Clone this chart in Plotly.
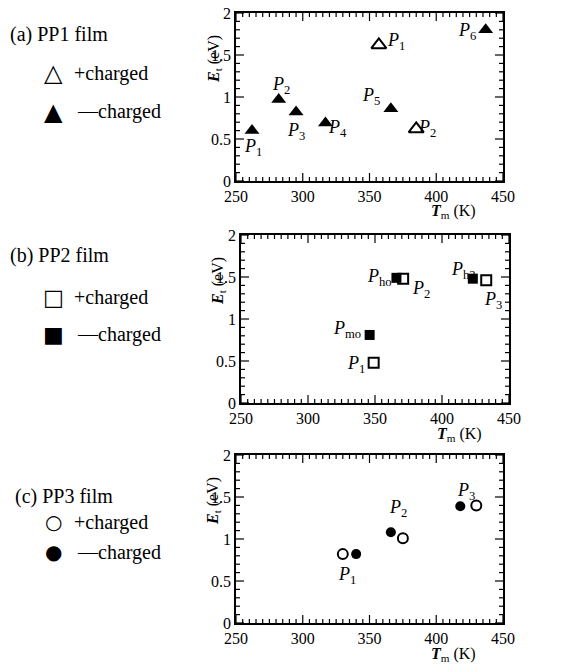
import numpy as np
import plotly.graph_objects as go

W, H = 581, 664

# ---- data: trap depth E_t (eV) versus peak temperature T_m (K) ----
pp1_pos_T = [357, 385]
pp1_pos_E = [1.62, 0.62]
pp1_neg_T = [262, 282, 295, 317, 366, 437]
pp1_neg_E = [0.60, 0.97, 0.82, 0.69, 0.86, 1.80]

pp2_pos_T = [349, 371, 433]
pp2_pos_E = [0.48, 1.48, 1.46]
pp2_neg_T = [346, 366, 423]
pp2_neg_E = [0.81, 1.49, 1.48]

pp3_pos_T = [330, 375, 430]
pp3_pos_E = [0.82, 1.01, 1.40]
pp3_neg_T = [340, 366, 418]
pp3_neg_E = [0.82, 1.08, 1.39]

x_range = [250, 450]
y_range = [0, 2]

SERIF = "Liberation Serif"


def px_x(p):
    return p / W


def px_y(p):
    return 1 - p / H


# plot frames in pixels: (left, right, top, bottom)
frames = [
    (236, 503, 13, 181),
    (241, 509, 235, 403),
    (236, 503, 455, 623),
]

panels = [
    dict(pos=(pp1_pos_T, pp1_pos_E), neg=(pp1_neg_T, pp1_neg_E),
         open_sym="triangle-up-open", fill_sym="triangle-up", size=13),
    dict(pos=(pp2_pos_T, pp2_pos_E), neg=(pp2_neg_T, pp2_neg_E),
         open_sym="square-open", fill_sym="square", size=10),
    dict(pos=(pp3_pos_T, pp3_pos_E), neg=(pp3_neg_T, pp3_neg_E),
         open_sym="circle-open", fill_sym="circle", size=10),
]

MAJOR_LEN, MINOR_LEN = 8, 4

fig = go.Figure()
axes_layout = {}
annotations = []
shapes = []

for i, (pan, fr) in enumerate(zip(panels, frames)):
    n = "" if i == 0 else str(i + 1)
    xa, ya = "x" + n, "y" + n
    fig.add_trace(go.Scatter(
        x=pan["neg"][0], y=pan["neg"][1], mode="markers", xaxis=xa, yaxis=ya,
        marker=dict(symbol=pan["fill_sym"], size=pan["size"], color="black",
                    line=dict(width=0)),
        showlegend=False))
    fig.add_trace(go.Scatter(
        x=pan["pos"][0], y=pan["pos"][1], mode="markers", xaxis=xa, yaxis=ya,
        marker=dict(symbol=pan["open_sym"], size=pan["size"], color="black",
                    line=dict(width=2)),
        showlegend=False))

    left, right, top, bottom = fr
    frame_style = dict(
        showline=True, linecolor="black", linewidth=1.5, mirror=True,
        ticks="", showgrid=False, zeroline=False, automargin=False,
        tickfont=dict(family=SERIF, size=16, color="black"),
    )
    axes_layout["xaxis" + n] = dict(
        frame_style, domain=[px_x(left), px_x(right)], anchor=ya,
        range=x_range, tickmode="linear", tick0=250, dtick=50,
    )
    axes_layout["yaxis" + n] = dict(
        frame_style, domain=[px_y(bottom), px_y(top)], anchor=xa,
        range=y_range, tickmode="linear", tick0=0, dtick=0.5,
    )

    # inward tick marks on all four sides (major every 50 K / 0.5 eV)
    w_px, h_px = right - left, bottom - top
    tick_line = dict(color="black", width=1.2)
    for t in np.arange(x_range[0], x_range[1] + 0.1, 5):
        ln = MAJOR_LEN if round(t) % 50 == 0 else MINOR_LEN
        for y0, y1 in [(0, ln / h_px), (1, 1 - ln / h_px)]:
            shapes.append(dict(type="line", xref=xa, yref=ya + " domain",
                               x0=t, x1=t, y0=y0, y1=y1, line=tick_line,
                               layer="above"))
    for k in range(0, 21):
        e = k / 10
        ln = MAJOR_LEN if k % 5 == 0 else MINOR_LEN
        for x0, x1 in [(0, ln / w_px), (1, 1 - ln / w_px)]:
            shapes.append(dict(type="line", xref=xa + " domain", yref=ya,
                               x0=x0, x1=x1, y0=e, y1=e, line=tick_line,
                               layer="above"))

    # axis titles
    annotations.append(dict(
        text="<b><i>E</i></b><sub>t</sub> (eV)", textangle=-90,
        xref="paper", yref="paper", x=px_x(left - 22), y=px_y(top + 46),
        xanchor="center", yanchor="middle",
        showarrow=False, font=dict(family=SERIF, size=16, color="black")))
    annotations.append(dict(
        text="<b><i>T</i></b><sub>m</sub> (K)",
        xref="paper", yref="paper", x=px_x(right - 50), y=px_y(bottom + 31),
        xanchor="center", yanchor="middle",
        showarrow=False, font=dict(family=SERIF, size=16, color="black")))

# ---- peak labels (text, data coordinates) ----
peak_labels = [
    # panel, text, T, E, xanchor
    (0, "<i>P</i><sub>1</sub>", 263, 0.40, "center"),
    (0, "<i>P</i><sub>2</sub>", 284, 1.14, "center"),
    (0, "<i>P</i><sub>3</sub>", 295, 0.59, "center"),
    (0, "<i>P</i><sub>4</sub>", 326, 0.63, "center"),
    (0, "<i>P</i><sub>5</sub>", 351, 1.01, "center"),
    (0, "<i>P</i><sub>6</sub>", 423, 1.78, "center"),
    (0, "<i>P</i><sub>1</sub>", 370, 1.66, "center"),
    (0, "<i>P</i><sub>2</sub>", 393, 0.62, "center"),
    (1, "<i>P</i><sub>ho</sub>", 364, 1.49, "right"),
    (1, "<i>P</i><sub>2</sub>", 384, 1.35, "center"),
    (1, "<i>P</i><sub>h2</sub>", 416, 1.58, "center"),
    (1, "<i>P</i><sub>3</sub>", 438, 1.22, "center"),
    (1, "<i>P</i><sub>mo</sub>", 341, 0.87, "right"),
    (1, "<i>P</i><sub>1</sub>", 344, 0.46, "right"),
    (2, "<i>P</i><sub>1</sub>", 333, 0.57, "center"),
    (2, "<i>P</i><sub>2</sub>", 371, 1.36, "center"),
    (2, "<i>P</i><sub>3</sub>", 422, 1.57, "center"),
]
for pi, txt, tx, ty, xan in peak_labels:
    n = "" if pi == 0 else str(pi + 1)
    annotations.append(dict(
        text=txt, x=tx, y=ty, xref="x" + n, yref="y" + n,
        xanchor=xan, yanchor="middle", showarrow=False,
        font=dict(family=SERIF, size=18, color="black")))

# ---- side captions with marker keys ----
captions = [
    ("(a) PP1 film", "△", "▲", 24, 8, 35, 73, 112),
    ("(b) PP2 film", "□", "■", 22, 8, 255, 297, 335),
    ("(c) PP3 film", "○", "●", 20, 13, 496, 522, 552),
]
for title, open_g, fill_g, gsize, tx, ty, y1, y2 in captions:
    annotations.append(dict(
        text=title, xref="paper", yref="paper",
        x=px_x(tx), y=px_y(ty), xanchor="left", yanchor="middle",
        showarrow=False, font=dict(family=SERIF, size=20, color="black")))
    for glyph, label, yy, lx in [(open_g, "+charged", y1, 72),
                                  (fill_g, "—charged", y2, 75)]:
        annotations.append(dict(
            text=glyph, xref="paper", yref="paper",
            x=px_x(53), y=px_y(yy), xanchor="center", yanchor="middle",
            showarrow=False,
            font=dict(family="DejaVu Sans", size=gsize, color="black")))
        annotations.append(dict(
            text=label, xref="paper", yref="paper",
            x=px_x(lx), y=px_y(yy), xanchor="left", yanchor="middle",
            showarrow=False, font=dict(family=SERIF, size=20, color="black")))

fig.update_layout(
    width=W, height=H, margin=dict(l=0, r=0, t=0, b=0),
    plot_bgcolor="white", paper_bgcolor="white", showlegend=False,
    annotations=annotations, shapes=shapes, **axes_layout,
)

fig.write_html("out.html")
